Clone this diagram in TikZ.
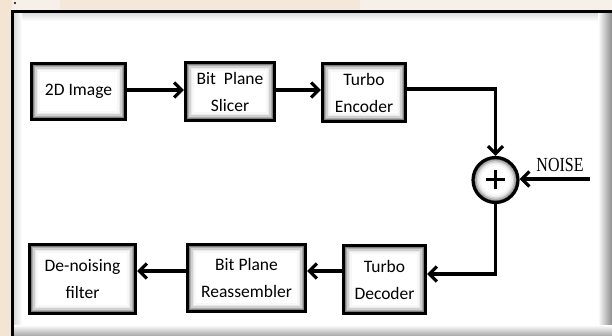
\documentclass[tikz,border=0pt]{standalone}
\usepackage{fontspec}
\newfontfamily\blkfont{Carlito}
\newfontfamily\lblfont{Liberation Serif}
\usetikzlibrary{arrows.meta,calc}

\definecolor{paper}{RGB}{247,240,232}
\definecolor{wash}{RGB}{240,218,192}

\tikzset{
  blk/.style={draw, line width=3.2pt, fill=white, align=center, inner sep=0pt,
    font={\blkfont\fontsize{17.5}{27}\selectfont},
    path picture={
      \foreach \d/\c in {1.8/50,3.2/32,4.6/18,6.0/8,7.4/3}{
        \draw[black!\c, line width=1.5pt]
          ($(path picture bounding box.south west)+(\d pt,\d pt)$) rectangle
          ($(path picture bounding box.north east)-(\d pt,\d pt)$);
      }
    }},
  sumnode/.style={circle, draw, line width=3.2pt, fill=white, minimum size=45pt, inner sep=0pt,
    path picture={
      \foreach \d/\c in {1.8/50,3.2/32,4.6/18,6.0/8,7.4/3}{
        \draw[black!\c, line width=1.5pt] (path picture bounding box.center) circle[radius=22.5pt-\d pt];
      }
    }},
  arr/.style={line width=3.2pt, -{Straight Barb[length=7.5pt,width=15pt]}},
  plus/.style={line width=3pt}
}

\begin{document}
\begin{tikzpicture}[x=1pt,y=-1pt]
  \useasboundingbox (0,0) rectangle (612,336);

  % surrounding paper with a faint wash
  \fill[paper] (0,0) rectangle (612,336);
  \fill[wash, opacity=0.5] (0,0) rectangle (12,336);
  \fill[wash, opacity=0.35] (60,0) rectangle (360,10);

  % framed panel: white face, soft inner shading, heavy top and left rules
  \fill[white] (12,11) rectangle (612,336);
  \shade[top color=black!16, bottom color=white] (12,12) rectangle (612,21);
  \shade[left color=black!16, right color=white] (13,12) rectangle (22,336);
  \shade[left color=white, right color=black!45] (598,12) rectangle (612,336);
  \shade[top color=white, bottom color=black!35] (12,325) rectangle (612,336);
  \draw[line width=3.4pt] (12.5,336) -- (12.5,11.5) -- (612,11.5);
  \fill (15,3) circle[radius=1.1];

  % blocks
  \node[blk, minimum width=94pt, minimum height=56pt] (img) at (78.5,91.5) {2D Image};
  \node[blk, minimum width=89pt, minimum height=58pt] (slicer) at (230,91.5) {Bit\ \ Plane\\Slicer};
  \node[blk, minimum width=83pt, minimum height=58pt] (enc) at (364,92.5) {Turbo\\Encoder};
  \node[sumnode] (sum) at (495.5,180) {};
  \draw[plus] ([xshift=-9.5pt]sum.center) -- ([xshift=9.5pt]sum.center)
              ([yshift=-9.5pt]sum.center) -- ([yshift=9.5pt]sum.center);
  \node[blk, minimum width=82pt, minimum height=68pt] (dec) at (384.5,279.5) {Turbo\\Decoder};
  \node[blk, minimum width=118pt, minimum height=67pt] (rea) at (246.5,278) {Bit Plane\\Reassembler};
  \node[blk, minimum width=106pt, minimum height=69pt] (den) at (82.5,279) {De-noising\\filter};

  % noise input
  \coordinate (nsrc) at (590,179);
  \node[font=\lblfont\fontsize{20}{20}\selectfont, xscale=0.8, anchor=base, inner sep=0pt] (noise) at (560,172) {NOISE};

  % connectors
  \draw[arr] (img.east |- 0,90) -- (slicer.west |- 0,90);
  \draw[arr] (slicer.east |- 0,90) -- (enc.west |- 0,90);
  \draw[arr] (enc.east |- 0,89) -| (sum.north);
  \draw[arr] (nsrc) -- (sum.east |- nsrc);
  \draw[arr] (sum.south) |- (dec.east |- 0,274);
  \draw[arr] (dec.west |- 0,271) -- (rea.east |- 0,271);
  \draw[arr] (rea.west |- 0,271) -- (den.east |- 0,271);
\end{tikzpicture}
\end{document}
